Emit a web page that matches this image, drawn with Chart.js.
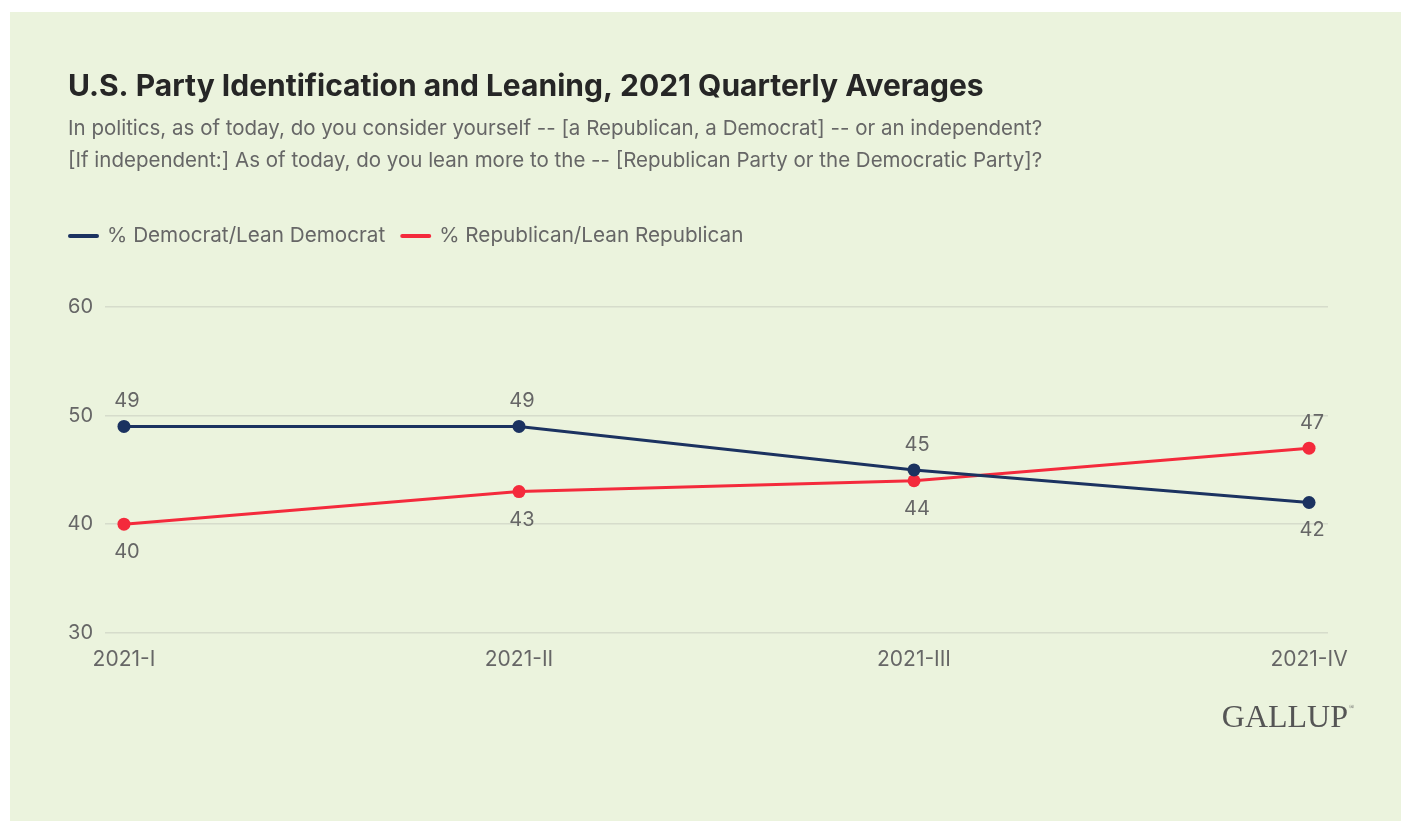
<!DOCTYPE html>
<html>
<head>
<meta charset="utf-8">
<title>U.S. Party Identification and Leaning, 2021 Quarterly Averages</title>
<script src="https://cdn.jsdelivr.net/npm/chart.js@4"></script>
<style>
  html, body { margin: 0; padding: 0; background: #ffffff; }
  #panel {
    position: absolute;
    left: 10px;
    top: 12px;
    width: 1391px;
    height: 809px;
    background: #ebf3dd;
  }
  #chart { display: block; }
</style>
</head>
<body>
<div id="panel">
  <canvas id="chart" width="1391" height="809"></canvas>
</div>
<script>
const quarters = ["2021-I", "2021-II", "2021-III", "2021-IV"];
const demLean = [49, 49, 45, 42];
const repLean = [40, 43, 44, 47];
const yTicks = [30, 40, 50, 60];

const navy = "#1b3260";
const red = "#f42a3c";
const grey = "#666666";

// {x, y} pairs so the quarters can sit on a linear axis with a little inset
function toPoints(values) {
    return values.map((v, i) => ({ x: i, y: v }));
}

// legend: short line + series name, drawn under the subtitle
const lineLegend = {
    id: "lineLegend",
    afterDraw(chart) {
        const ctx = chart.ctx;
        let x = 58;
        const y = 224;
        ctx.save();
        ctx.font = "20.7px Inter";
        ctx.textBaseline = "middle";
        ctx.textAlign = "left";
        chart.data.datasets.forEach((ds) => {
            ctx.strokeStyle = ds.borderColor;
            ctx.lineWidth = 4;
            ctx.lineCap = "round";
            ctx.beginPath();
            ctx.moveTo(x + 2, y);
            ctx.lineTo(x + 29, y);
            ctx.stroke();
            ctx.fillStyle = grey;
            ctx.fillText(ds.label, x + 39, y);
            x += 39 + ctx.measureText(ds.label).width + 15;
        });
        ctx.restore();
    }
};

// value next to each point: above for the higher series, below for the lower one
const pointValues = {
    id: "pointValues",
    afterDatasetsDraw(chart) {
        const ctx = chart.ctx;
        ctx.save();
        ctx.font = "20px Inter";
        ctx.fillStyle = grey;
        ctx.textAlign = "center";
        ctx.textBaseline = "middle";
        chart.data.datasets.forEach((ds, di) => {
            const other = chart.data.datasets[1 - di].data;
            chart.getDatasetMeta(di).data.forEach((pt, i) => {
                const v = ds.data[i].y;
                const above = v >= other[i].y;
                ctx.fillText(String(v), pt.x + 3, above ? pt.y - 25 : pt.y + 28);
            });
        });
        ctx.restore();
    }
};

const logo = {
    id: "logo",
    afterDraw(chart) {
        const ctx = chart.ctx;
        ctx.save();
        ctx.fillStyle = "#555555";
        ctx.textAlign = "right";
        ctx.textBaseline = "alphabetic";
        ctx.font = "32px 'Liberation Serif'";
        ctx.fillText("GALLUP", 1338, 715);
        ctx.font = "7px 'Liberation Serif'";
        ctx.textAlign = "left";
        ctx.fillText("®", 1339, 697);
        ctx.restore();
    }
};

new Chart(document.getElementById("chart"), {
    type: "line",
    data: {
        datasets: [
            {
                label: "% Democrat/Lean Democrat",
                data: toPoints(demLean),
                borderColor: navy,
                backgroundColor: navy,
                borderWidth: 3,
                pointRadius: 6.5,
                pointBorderWidth: 0,
                pointBackgroundColor: navy
            },
            {
                label: "% Republican/Lean Republican",
                data: toPoints(repLean),
                borderColor: red,
                backgroundColor: red,
                borderWidth: 3,
                pointRadius: 6.5,
                pointBorderWidth: 0,
                pointBackgroundColor: red
            }
        ]
    },
    options: {
        responsive: false,
        animation: false,
        layout: {
            padding: { left: 58, right: 73, top: 0, bottom: 143 }
        },
        scales: {
            x: {
                type: "linear",
                min: -0.048,
                max: 3.048,
                grid: { display: false },
                border: { display: false },
                afterBuildTicks: (scale) => {
                    scale.ticks = quarters.map((q, i) => ({ value: i }));
                },
                ticks: {
                    color: grey,
                    font: { family: "Inter", size: 21 },
                    padding: 6,
                    maxRotation: 0,
                    callback: (value) => quarters[value]
                }
            },
            y: {
                min: 30,
                max: 60,
                afterBuildTicks: (scale) => {
                    scale.ticks = yTicks.map((v) => ({ value: v }));
                },
                afterFit: (scale) => {
                    scale.width = 37;
                },
                grid: { color: "#d6dccb", lineWidth: 1.5, drawTicks: false },
                border: { display: false },
                ticks: {
                    color: grey,
                    font: { family: "Inter", size: 20 },
                    padding: 12
                }
            }
        },
        plugins: {
            legend: { display: false },
            tooltip: { enabled: false },
            title: {
                display: true,
                align: "start",
                text: "U.S. Party Identification and Leaning, 2021 Quarterly Averages",
                color: "#262626",
                font: { family: "Inter", size: 30, weight: "700" },
                padding: { top: 57, bottom: 8 }
            },
            subtitle: {
                display: true,
                align: "start",
                text: [
                    "In politics, as of today, do you consider yourself -- [a Republican, a Democrat] -- or an independent?",
                    "[If independent:] As of today, do you lean more to the -- [Republican Party or the Democratic Party]?"
                ],
                color: grey,
                font: { family: "Inter", size: 20.5, lineHeight: "32px" },
                padding: { top: 0, bottom: 130 }
            }
        }
    },
    plugins: [lineLegend, pointValues, logo]
});
</script>
</body>
</html>
